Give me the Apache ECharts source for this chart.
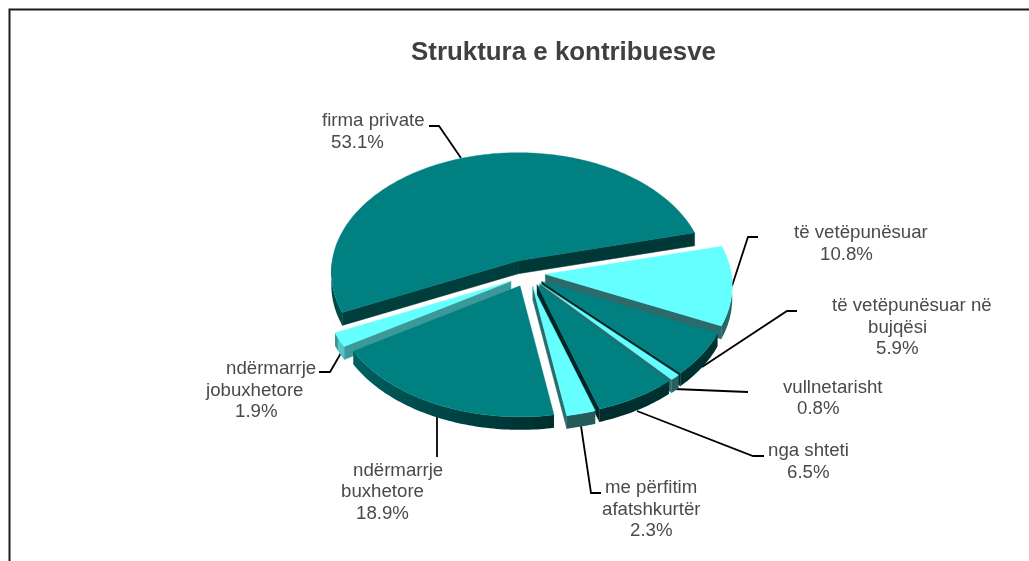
<!DOCTYPE html>
<html>
<head>
<meta charset="utf-8">
<style>html,body{margin:0;padding:0;background:#fff}#c{width:1029px;height:561px}</style>
<script src="https://cdn.jsdelivr.net/npm/echarts@6/dist/echarts.min.js"></script>
</head>
<body>
<div id="c"></div>
<script>
// ---- data ----
var chartTitle = 'Struktura e kontribuesve';
var categories = ['firma private', 'të vetëpunësuar', 'të vetëpunësuar në bujqësi', 'vullnetarisht', 'nga shteti', 'me përfitim afatshkurtër', 'ndërmarrje buxhetore', 'ndërmarrje jobuxhetore'];
var values = [53.1, 10.8, 5.9, 0.8, 6.5, 2.3, 18.9, 1.9];
var labelLines = [
  ['firma private'],
  ['të vetëpunësuar'],
  ['të vetëpunësuar në', 'bujqësi'],
  ['vullnetarisht'],
  ['nga shteti'],
  ['me përfitim', 'afatshkurtër'],
  ['ndërmarrje', 'buxhetore'],
  ['ndërmarrje', 'jobuxhetore']
];

// ---- styling and layout ----
var TEAL = [0, 128, 128], CYAN = [102, 255, 255];
var sliceColors = [TEAL, CYAN, TEAL, CYAN, TEAL, CYAN, TEAL, CYAN];
var cutShadeStart = [0.48, 0.42, 0.40, 0.42, 0.35, 0.42, 0.40, 0.60];
var cutShadeEnd = [0.44, 0.42, 0.34, 0.42, 0.30, 0.42, 0.40, 0.60];
var sliceNudge = [[0, 0], [0, 0], [0, 1], [1, 1], [2, 0.5], [3, 1], [3.5, 1], [4, 2]];
var firstAngle = 76;   // clockwise from north, where the first slice's sweep ends
var cx = 525, cy = 273, rx = 186, ry = 118.4, persp = 0.096, depth = 13, explode = 0.11;
// label rows: [left x, centre y] for each text line, last one is the percentage
var labelPos = [
  [[322, 121], [331, 143]],
  [[794, 233], [820, 255]],
  [[832, 306], [868, 328], [876, 349]],
  [[783, 388], [797, 409]],
  [[768, 451], [787, 473]],
  [[605, 488], [602, 510], [630, 531]],
  [[353, 471], [341, 492], [356, 514]],
  [[226, 369], [206, 391], [235, 412]]
];
var leaders = [
  [[429, 126], [439, 126], [461, 158]],
  [[758, 237], [748, 237], [732, 286]],
  [[797, 311], [787, 311], [702, 367]],
  [[748, 392], [674, 389]],
  [[764, 456], [753, 456], [637, 411]],
  [[601, 493], [591, 493], [581, 426]],
  [[437, 417], [437, 457]],
  [[319, 372], [330, 372], [341, 353]]
];
var FONT = '"Liberation Sans", Arial, sans-serif';

// ---- slice geometry derived from the values ----
var total = values.reduce(function (a, b) { return a + b; }, 0);
var slices = [];
(function () {
  var a = firstAngle;
  var firstSweep = values[0] / total * 360;
  slices.push({ i: 0, a0: a - firstSweep, a1: a });
  for (var i = 1; i < values.length; i++) {
    var s = values[i] / total * 360;
    slices.push({ i: i, a0: a, a1: a + s });
    a += s;
  }
  slices.forEach(function (sl) {
    var mid = (sl.a0 + sl.a1) / 2 * Math.PI / 180;
    sl.ax = cx + explode * rx * Math.sin(mid) + sliceNudge[sl.i][0];
    sl.ay = cy - explode * ry * Math.cos(mid) + sliceNudge[sl.i][1];
    sl.order = -Math.cos(mid);
  });
})();
var drawOrder = slices.slice().sort(function (p, q) { return p.order - q.order; }).map(function (s) { return s.i; });

function rimPoint(sl, deg) {
  var t = deg * Math.PI / 180, u = Math.sin(t), v = -Math.cos(t), w = 1 - persp * v;
  return [sl.ax + rx * u / w, sl.ay + ry * v / w];
}
function shaded(c, f) {
  return 'rgb(' + Math.round(c[0] * f) + ',' + Math.round(c[1] * f) + ',' + Math.round(c[2] * f) + ')';
}
function rimShade(deg) {
  var d = ((deg % 360) + 360) % 360;
  if (d < 170) return 0.42 - 0.07 * Math.max(0, d - 90) / 80;
  if (d < 243) return 0.35 + 0.45 * (d - 170) / 73;
  return 0.58;
}
function down(p) { return [p[0], p[1] + depth]; }

function faceShape(points, color) {
  return { type: 'polygon', shape: { points: points }, style: { fill: color, stroke: color, lineWidth: 0.5 } };
}
// a cut face shows when the slice's top lies above the edge on the screen
function cutVisible(sl, deg, inward) {
  var p = rimPoint(sl, deg), q = rimPoint(sl, deg + inward);
  var ex = p[0] - sl.ax, ey = p[1] - sl.ay;
  var cross = ex * (q[1] - sl.ay) - ey * (q[0] - sl.ax);
  return cross * (ex >= 0 ? 1 : -1) < 0;
}
function rimFace(sl, col) {
  var lo = null, hi = null;
  [0, -360].forEach(function (shift) {
    var a = Math.max(sl.a0, 90 + shift), b = Math.min(sl.a1, 270 + shift);
    if (b > a) { lo = a; hi = b; }
  });
  if (lo === null) return null;
  var steps = Math.max(2, Math.ceil(hi - lo));
  var dt = (hi - lo) / steps, upper = [], lower = [];
  for (var k = 0; k <= steps; k++) {
    var p = rimPoint(sl, lo + k * dt);
    upper.push(p);
    lower.unshift(down(p));
  }
  // horizontal gradient: each sampled rim angle gives one colour stop
  var xs = upper.map(function (q) { return q[0]; });
  var xLo = Math.min.apply(null, xs), xHi = Math.max.apply(null, xs), span = Math.max(1, xHi - xLo), stops = [];
  for (var s = 0; s <= steps; s++) {
    stops.push({ offset: Math.min(1, Math.max(0, (upper[s][0] - xLo) / span)), color: shaded(col, rimShade(lo + s * dt)) });
  }
  stops.sort(function (a, b) { return a.offset - b.offset; });
  return {
    type: 'polygon', shape: { points: upper.concat(lower) },
    style: { fill: new echarts.graphic.LinearGradient(xLo, 0, xHi, 0, stops, true) }
  };
}

function renderSlice(params, api) {
  var sl = slices[api.value(0)];
  var col = sliceColors[sl.i];
  var apex = [sl.ax, sl.ay];
  var kids = [];
  var pS = rimPoint(sl, sl.a0), pE = rimPoint(sl, sl.a1);
  if (cutVisible(sl, sl.a0, 1)) kids.push(faceShape([apex, pS, down(pS), down(apex)], shaded(col, cutShadeStart[sl.i])));
  if (cutVisible(sl, sl.a1, -1)) kids.push(faceShape([apex, pE, down(pE), down(apex)], shaded(col, cutShadeEnd[sl.i])));
  var rim = rimFace(sl, col);
  if (rim) kids.push(rim);
  var steps = Math.max(2, Math.ceil(sl.a1 - sl.a0));
  var top = [apex];
  for (var k = 0; k <= steps; k++) top.push(rimPoint(sl, sl.a0 + (sl.a1 - sl.a0) * k / steps));
  kids.push({ type: 'polygon', shape: { points: top }, style: { fill: shaded(col, 1), stroke: shaded(col, 1), lineWidth: 0.4 } });
  return { type: 'group', children: kids };
}

function renderLabel(params, api) {
  var idx = api.value(0);
  var kids = [{
    type: 'polyline',
    shape: { points: leaders[idx] },
    style: { fill: 'none', stroke: '#000000', lineWidth: 1.8 }
  }];
  var rows = labelLines[idx].concat([values[idx].toFixed(1) + '%']);
  rows.forEach(function (txt, r) {
    kids.push({
      type: 'text',
      style: {
        text: txt, x: labelPos[idx][r][0], y: labelPos[idx][r][1],
        textAlign: 'left', textVerticalAlign: 'middle',
        fill: '#4a4a4a', font: '18.67px ' + FONT
      }
    });
  });
  return { type: 'group', children: kids };
}

var chart = echarts.init(document.getElementById('c'), null, { renderer: 'canvas' });
chart.setOption({
  animation: false,
  backgroundColor: '#ffffff',
  title: {
    text: chartTitle, left: 406, top: 35,
    textStyle: { fontFamily: FONT, fontSize: 25.9, fontWeight: 'bold', color: '#404040' }
  },
  tooltip: { show: false },
  graphic: [{
    type: 'polyline', silent: true,
    shape: { points: [[9.5, 561], [9.5, 9.5], [1029, 9.5]] },
    style: { fill: 'none', stroke: '#1c1c1c', lineWidth: 2 }
  }],
  series: [
    {
      type: 'custom', name: 'leaders', coordinateSystem: 'none', silent: true, clip: false, z: 3,
      data: categories.map(function (c, i) { return { name: c, value: [i] }; }),
      renderItem: renderLabel
    },
    {
      type: 'custom', name: chartTitle, coordinateSystem: 'none', silent: true, clip: false, z: 4,
      data: drawOrder.map(function (i) { return { name: categories[i], value: [i] }; }),
      renderItem: renderSlice
    }
  ]
});
</script>
</body>
</html>
